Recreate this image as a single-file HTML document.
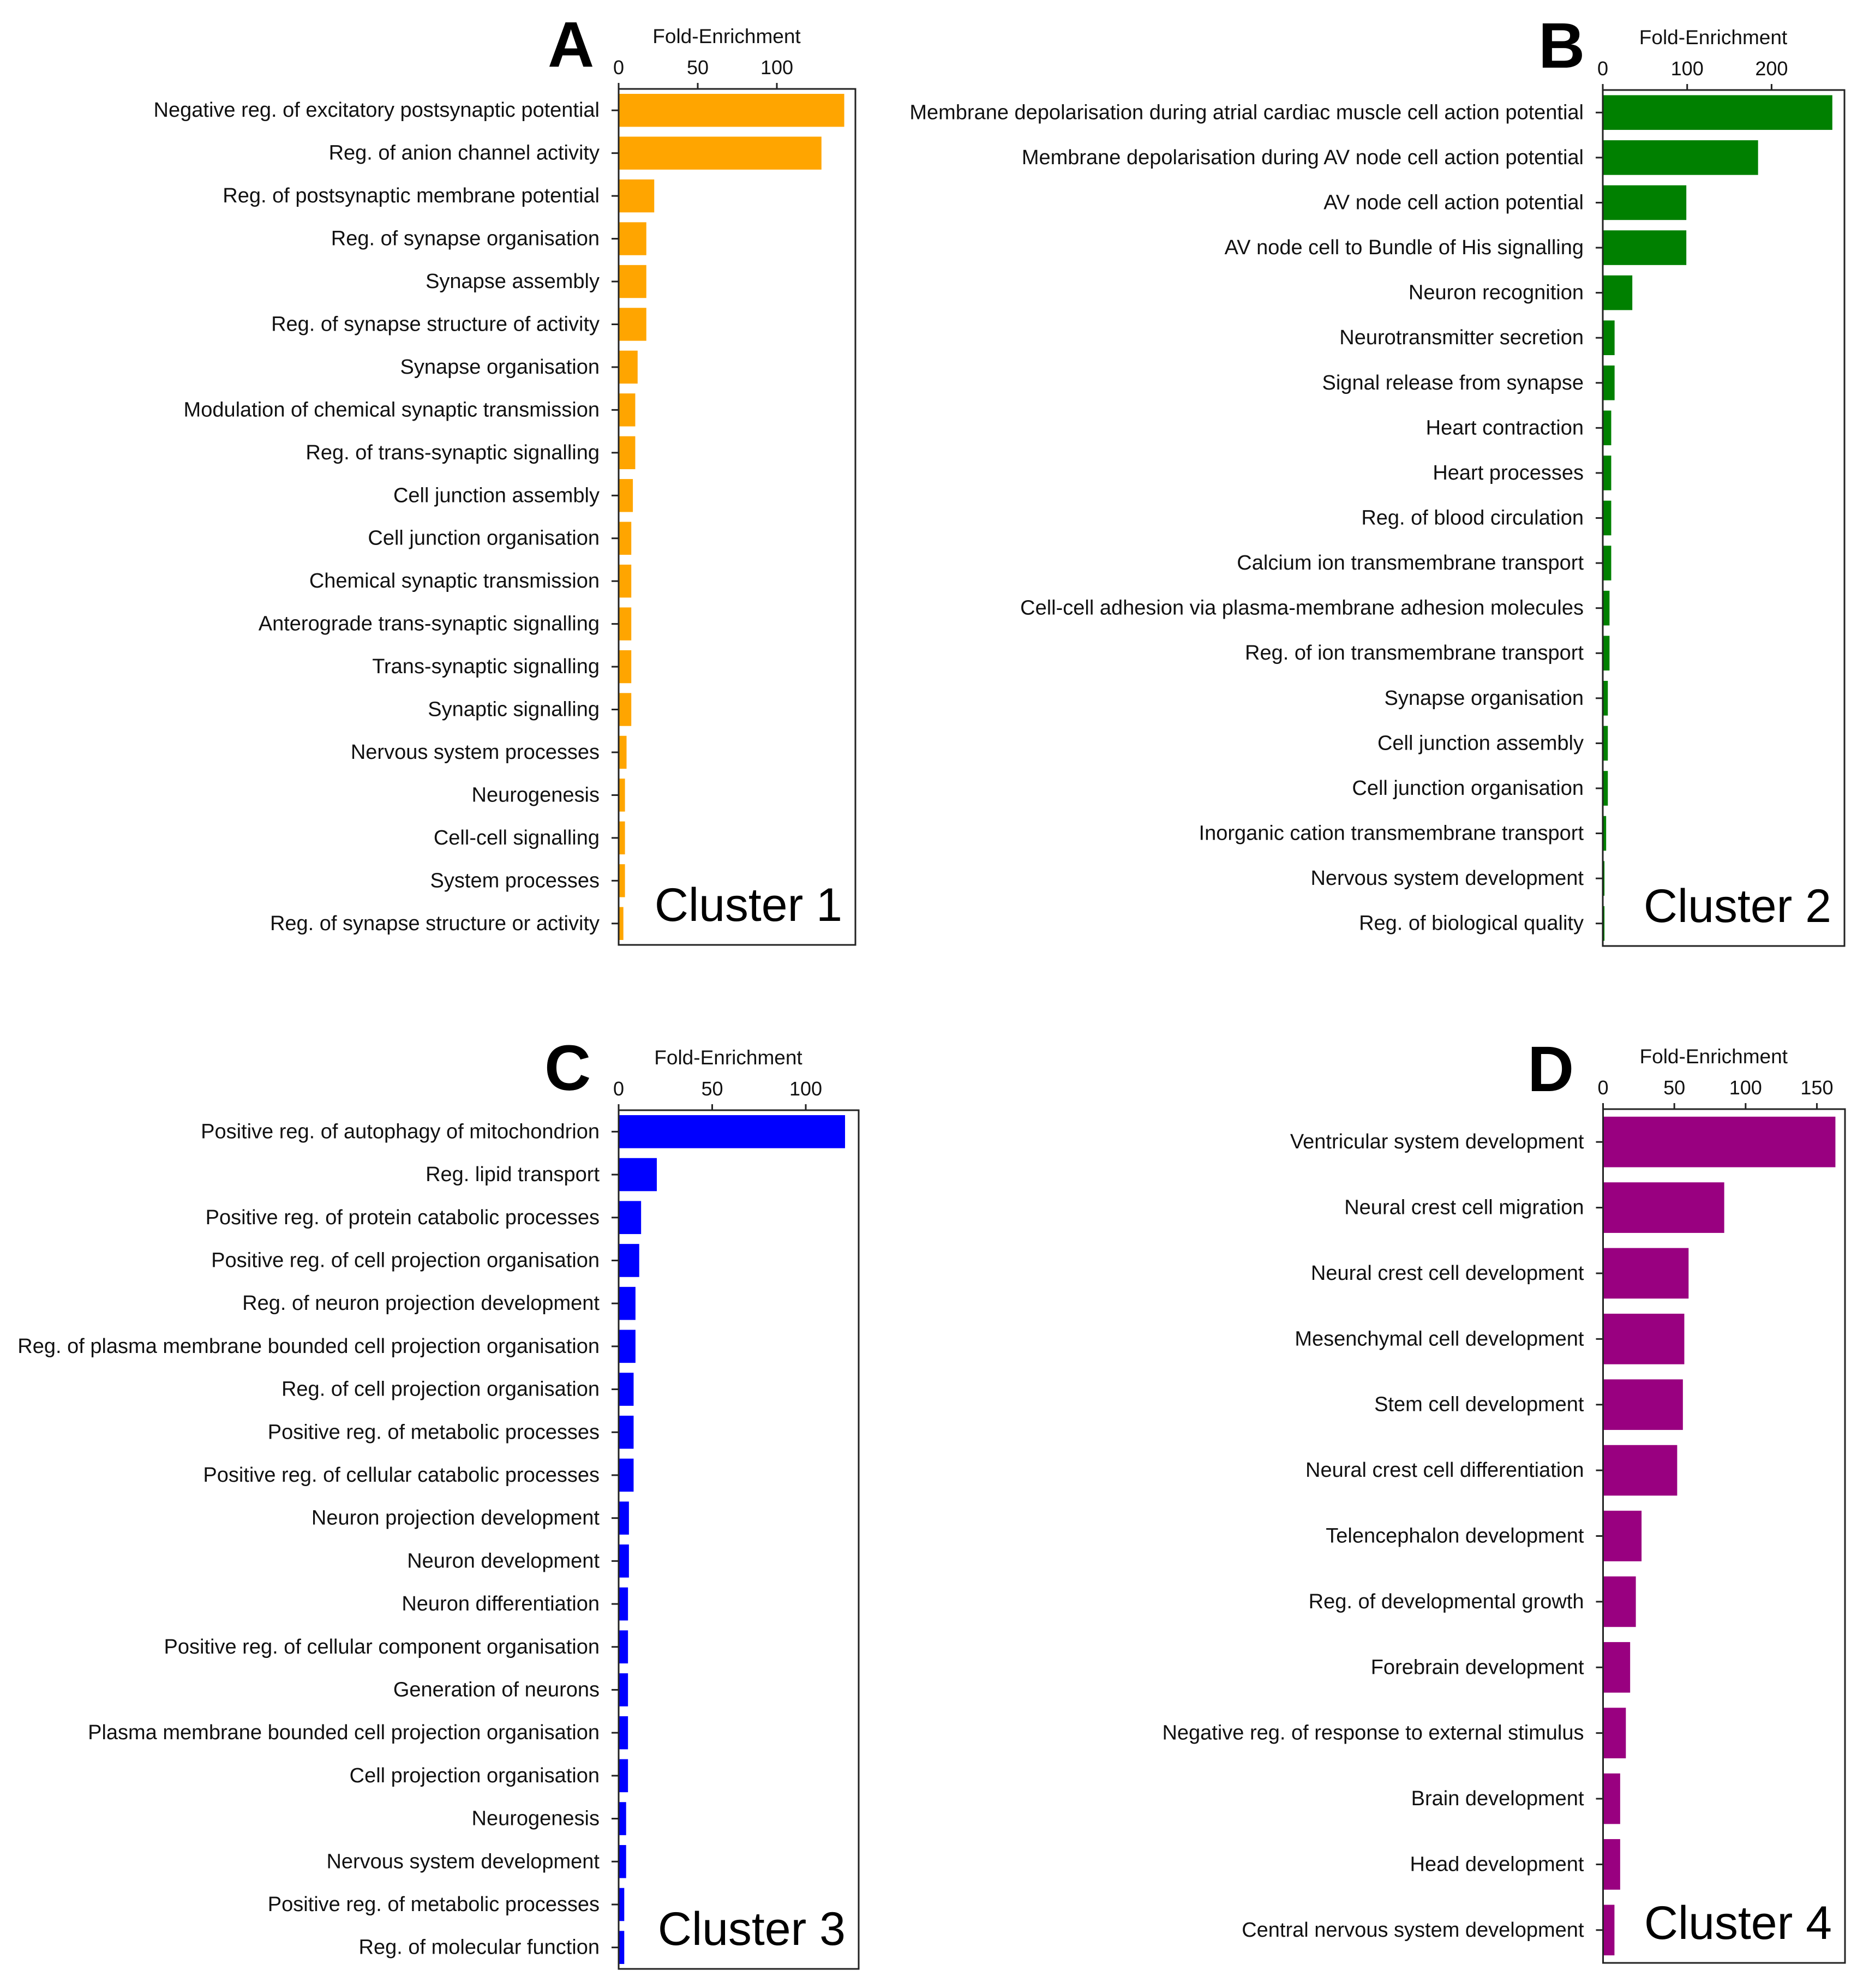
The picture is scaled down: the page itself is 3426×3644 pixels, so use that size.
<!DOCTYPE html>
<html><head><meta charset="utf-8">
<style>
html,body{margin:0;padding:0;background:#fff;}
svg{display:block;font-family:"Liberation Sans",sans-serif;}
</style></head>
<body>
<svg id="fig" width="3426" height="3644" viewBox="0 0 3426 3644" xmlns="http://www.w3.org/2000/svg">
<rect x="0" y="0" width="3426" height="3644" fill="#fff"/>
</svg>
<script>
const catsA = ["Negative reg. of excitatory postsynaptic potential","Reg. of anion channel activity","Reg. of postsynaptic membrane potential","Reg. of synapse organisation","Synapse assembly","Reg. of synapse structure of activity","Synapse organisation","Modulation of chemical synaptic transmission","Reg. of trans-synaptic signalling","Cell junction assembly","Cell junction organisation","Chemical synaptic transmission","Anterograde trans-synaptic signalling","Trans-synaptic signalling","Synaptic signalling","Nervous system processes","Neurogenesis","Cell-cell signalling","System processes","Reg. of synapse structure or activity"];
const valsA = [142.6,128.2,22.5,17.5,17.5,17.5,12,10.5,10.5,9,8,8,8,8,8,5,4,4,4,3];
const ticksA = [0,50,100];

const catsB = ["Membrane depolarisation during atrial cardiac muscle cell action potential","Membrane depolarisation during AV node cell action potential","AV node cell action potential","AV node cell to Bundle of His signalling","Neuron recognition","Neurotransmitter secretion","Signal release from synapse","Heart contraction","Heart processes","Reg. of blood circulation","Calcium ion transmembrane transport","Cell-cell adhesion via plasma-membrane adhesion molecules","Reg. of ion transmembrane transport","Synapse organisation","Cell junction assembly","Cell junction organisation","Inorganic cation transmembrane transport","Nervous system development","Reg. of biological quality"];
const valsB = [272,184,99,99,35,14,14,10,10,10,10,8,8,6,6,6,4,2,2];
const ticksB = [0,100,200];

const catsC = ["Positive reg. of autophagy of mitochondrion","Reg. lipid transport","Positive reg. of protein catabolic processes","Positive reg. of cell projection organisation","Reg. of neuron projection development","Reg. of plasma membrane bounded cell projection organisation","Reg. of cell projection organisation","Positive reg. of metabolic processes","Positive reg. of cellular catabolic processes","Neuron projection development","Neuron development","Neuron differentiation","Positive reg. of cellular component organisation","Generation of neurons","Plasma membrane bounded cell projection organisation","Cell projection organisation","Neurogenesis","Nervous system development","Positive reg. of metabolic processes","Reg. of molecular function"];
const valsC = [121,20.4,12,11,9,9,8,8,8,5.5,5.5,5,5,5,5,5,4,4,3,3];
const ticksC = [0,50,100];

const catsD = ["Ventricular system development","Neural crest cell migration","Neural crest cell development","Mesenchymal cell development","Stem cell development","Neural crest cell differentiation","Telencephalon development","Reg. of developmental growth","Forebrain development","Negative reg. of response to external stimulus","Brain development","Head development","Central nervous system development"];
const valsD = [163,85,60,57,56,52,27,23,19,16,12,12,8];
const ticksD = [0,50,100,150];

const NS = "http://www.w3.org/2000/svg";
const svg = document.getElementById('fig');
function mk(tag, attrs, parent){
  const e = document.createElementNS(NS, tag);
  for (const k in attrs) e.setAttribute(k, attrs[k]);
  (parent||svg).appendChild(e);
  return e;
}

function panel(cfg, cats, vals, ticks){
  const g = mk('g', {});
  
  
  const xs = v => cfg.x0 + (v - 0) * (cfg.x100 - cfg.x0) / 100;
  const band = (cfg.bottom - cfg.top) / cats.length;
  const ys = i => cfg.top + (i + 0.5) * band;
  const bh = band * 0.77;
  cats.forEach((c, i) => {
    const r = mk('rect', {x: xs(0), y: ys(i) - bh/2, width: Math.max(0, xs(vals[i]) - xs(0)), height: bh, fill: cfg.color}, g);
    
    
    const t = mk('line', {x1: cfg.x0 - 13, x2: cfg.x0, y1: ys(i), y2: ys(i), stroke: '#222', 'stroke-width': 3}, g);
    
    
    const lbl = mk('text', {x: cfg.x0 - 35, y: ys(i) + 12, 'text-anchor': 'end', 'font-size': 38, fill: '#111'}, g);
    lbl.textContent = c;
    
    
  });
  const fr = mk('rect', {x: cfg.x0, y: cfg.top, width: cfg.right - cfg.x0, height: cfg.bottom - cfg.top, fill: 'none', stroke: '#222', 'stroke-width': 3}, g);
  
  
  ticks.forEach(v => {
    const tk = mk('line', {x1: xs(v), x2: xs(v), y1: cfg.top - 11, y2: cfg.top, stroke: '#222', 'stroke-width': 3}, g);
    
    
    const tl = mk('text', {x: xs(v), y: cfg.top - 27, 'text-anchor': 'middle', 'font-size': 36, fill: '#111'}, g);
    tl.textContent = String(v);
    
    
  });
  const title = mk('text', {x: (cfg.x0 + cfg.right)/2 - 19, y: cfg.top - 84, 'text-anchor': 'middle', 'font-size': 37, fill: '#111'}, g);
  title.textContent = 'Fold-Enrichment';
  
  
  const letter = mk('text', {x: cfg.lx, y: cfg.ly, 'font-size': 118, 'font-weight': 'bold', fill: '#000'}, g);
  letter.textContent = cfg.letter;
  
  
  const cl = mk('text', {x: cfg.right - 24, y: cfg.bottom - 44, 'text-anchor': 'end', 'font-size': 86, fill: '#000'}, g);
  cl.textContent = cfg.cluster;
  
  
}

panel({letter:'A', cluster:'Cluster 1', color:'#FFA500', x0:1134, x100:1424, right:1568, top:163, bottom:1732, lx:1004, ly:122}, catsA, valsA, ticksA);
panel({letter:'B', cluster:'Cluster 2', color:'#008000', x0:2938, x100:3092.7, right:3381, top:165, bottom:1734, lx:2820, ly:124}, catsB, valsB, ticksB);
panel({letter:'C', cluster:'Cluster 3', color:'#0000FF', x0:1134, x100:1477, right:1574, top:2035, bottom:3609, lx:998, ly:1998}, catsC, valsC, ticksC);
panel({letter:'D', cluster:'Cluster 4', color:'#990080', x0:2938.5, x100:3199.8, right:3382, top:2033, bottom:3598, lx:2800, ly:2000}, catsD, valsD, ticksD);
</script>
</body></html>
